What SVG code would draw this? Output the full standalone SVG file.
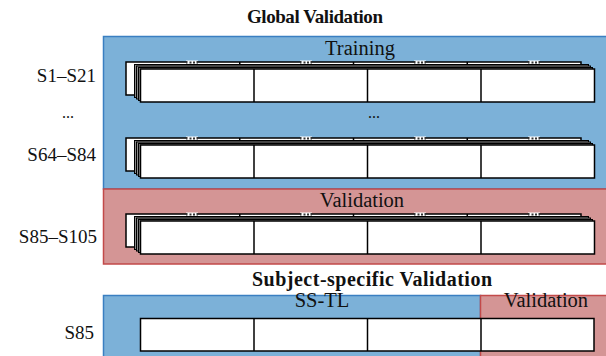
<svg xmlns="http://www.w3.org/2000/svg" width="606" height="356" viewBox="0 0 606 356">
<defs>
<style>
text{font-family:'Liberation Serif','DejaVu Serif',serif;fill:#111}
.title{font-weight:bold}
.lab{font-size:19px;text-anchor:end}
.sec{font-size:20.5px;text-anchor:middle}
.blue{fill:#7cb1d8;stroke:#3a7fc1;stroke-width:1.5}
.red{fill:#d49595;stroke:#c24a4a;stroke-width:1.5}
.cell{fill:#fff;stroke:#000;stroke-width:1.5}
.mid{fill:#8a8a8a;stroke:#000;stroke-width:1}
.div{stroke:#000;stroke-width:1.5}
</style>
<g id="stack">
  <rect class="cell" x="126" y="0" width="455" height="33"/>
  <line class="div" x1="239.75" y1="0" x2="239.75" y2="33"/>
  <line class="div" x1="353.5" y1="0" x2="353.5" y2="33"/>
  <line class="div" x1="467.25" y1="0" x2="467.25" y2="33"/>
  <rect x="186" y="-1.5" width="12" height="3" fill="#fff"/>
  <rect x="300" y="-1.5" width="12" height="3" fill="#fff"/>
  <rect x="414" y="-1.5" width="12" height="3" fill="#fff"/>
  <rect x="528" y="-1.5" width="12" height="3" fill="#fff"/>
  <g fill="#333">
    <rect x="186" y="-1" width="1.5" height="2.5"/><rect x="189.5" y="-0.5" width="2" height="2"/><rect x="193" y="-0.5" width="2" height="2"/><rect x="196.5" y="-1" width="1.5" height="2.5"/>
    <rect x="300" y="-1" width="1.5" height="2.5"/><rect x="303.5" y="-0.5" width="2" height="2"/><rect x="307" y="-0.5" width="2" height="2"/><rect x="310.5" y="-1" width="1.5" height="2.5"/>
    <rect x="414" y="-1" width="1.5" height="2.5"/><rect x="417.5" y="-0.5" width="2" height="2"/><rect x="421" y="-0.5" width="2" height="2"/><rect x="424.5" y="-1" width="1.5" height="2.5"/>
    <rect x="528" y="-1" width="1.5" height="2.5"/><rect x="531.5" y="-0.5" width="2" height="2"/><rect x="535" y="-0.5" width="2" height="2"/><rect x="538.5" y="-1" width="1.5" height="2.5"/>
  </g>
  <rect class="mid" x="134.5" y="2.5" width="454" height="33"/>
  <rect class="mid" x="136.5" y="4" width="454" height="33"/>
  <rect class="mid" x="138.5" y="5.5" width="454" height="33"/>
  <rect class="cell" x="140.5" y="7" width="454" height="33"/>
  <line class="div" x1="254" y1="7" x2="254" y2="40"/>
  <line class="div" x1="367.5" y1="7" x2="367.5" y2="40"/>
  <line class="div" x1="481" y1="7" x2="481" y2="40"/>
</g>
</defs>

<text class="title" x="247" y="23" font-size="19" textLength="136" lengthAdjust="spacing">Global Validation</text>

<g id="training">
  <rect class="blue" x="103.5" y="36.5" width="504" height="152.5"/>
  <text class="sec" x="360" y="55">Training</text>
</g>
<g id="validation">
  <rect class="red" x="103.5" y="189" width="504" height="75"/>
  <text class="sec" x="362" y="207">Validation</text>
</g>

<g id="row-s1-s21">
  <text class="lab" x="96" y="82">S1–S21</text>
  <use href="#stack" x="0" y="62"/>
</g>
<g id="ellipsis">
  <text x="68" y="118" font-size="16" text-anchor="middle">...</text>
  <text x="374" y="118" font-size="16" text-anchor="middle">...</text>
</g>
<g id="row-s64-s84">
  <text class="lab" x="96" y="161">S64–S84</text>
  <use href="#stack" x="0" y="138"/>
</g>
<g id="row-s85-s105">
  <text class="lab" x="97" y="243">S85–S105</text>
  <use href="#stack" x="0" y="214"/>
</g>

<text class="title" x="252" y="286" font-size="20" textLength="240" lengthAdjust="spacing">Subject-specific Validation</text>

<g id="ss-tl">
  <rect class="blue" x="103.5" y="295.5" width="377" height="65"/>
  <text class="sec" x="322" y="307">SS-TL</text>
</g>
<g id="ss-validation">
  <rect class="red" x="480.5" y="295.5" width="130" height="65"/>
  <text class="sec" x="546" y="307">Validation</text>
</g>
<g id="row-s85">
  <text class="lab" x="94" y="339">S85</text>
  <rect class="cell" x="140.5" y="318.5" width="453.5" height="32.5"/>
  <line class="div" x1="254" y1="318.5" x2="254" y2="351"/>
  <line class="div" x1="367.5" y1="318.5" x2="367.5" y2="351"/>
  <line class="div" x1="481" y1="318.5" x2="481" y2="351"/>
</g>
</svg>
